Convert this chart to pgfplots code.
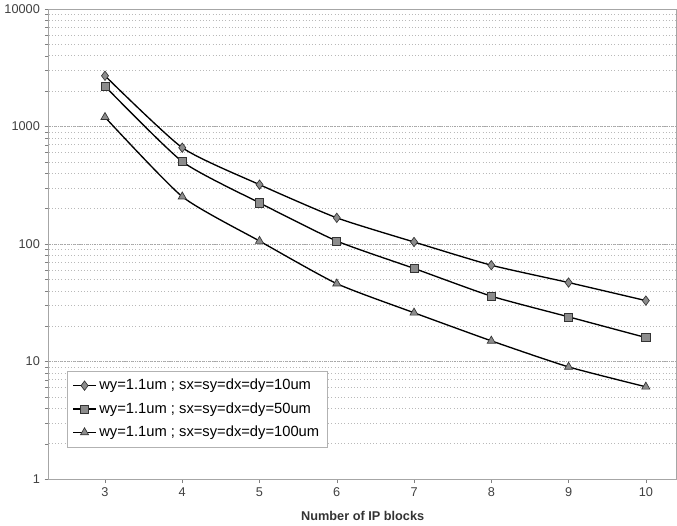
\documentclass[border=0pt]{standalone}
\usepackage{pgfplots}
\pgfplotsset{compat=1.18}
\usepackage{fontspec}
\setmainfont{Liberation Sans}

\begin{document}
\begin{tikzpicture}
\begin{axis}[
  ymode=log,
  scale only axis,
  width=469pt, height=351pt,
  xmin=2.27, xmax=10.4,
  ymin=1, ymax=10000,
  xtick={3,4,5,6,7,8,9,10},
  ytick={1,10,100,1000,10000},
  yticklabels={1,10,100,1000,10000},
  /pgf/number format/assume math mode=true,
  tick label style={font=\fontsize{9.5}{11}\selectfont, text=black!75},
  xlabel={\bfseries Number of IP blocks},
  xlabel style={font=\fontsize{9.5}{11}\selectfont, text=black!80, yshift=-4pt},
  ymajorgrids, yminorgrids,
  major grid style={gray!70, densely dotted},
  minor grid style={gray!55, dotted},
  major tick length=3pt,
  tick align=outside,
  xtick pos=bottom, ytick pos=left,
  axis line style={gray!70},
  legend style={at={(rel axis cs:0.029,0.068)}, anchor=south west,
    draw=gray!60, fill=white, font=\fontsize{11}{13}\selectfont,
    row sep=4pt, inner xsep=4pt, inner ysep=4pt},
  legend cell align=left,
]
\addplot[black, line width=1pt, smooth, tension=0.35, mark=diamond*, mark size=3.5pt,
  mark options={fill=black!45, draw=black!80, line width=0.5pt}] coordinates {
  (3,2700) (4,660) (5,320) (6,167) (7,104) (8,66) (9,47) (10,33)};
\addlegendentry{wy=1.1um ; sx=sy=dx=dy=10um}
\addplot[black, line width=1pt, smooth, tension=0.35, mark=square*, mark size=3pt,
  mark options={fill=black!45, draw=black!80, line width=0.5pt}] coordinates {
  (3,2200) (4,503) (5,224) (6,106) (7,62) (8,36) (9,24) (10,16)};
\addlegendentry{wy=1.1um ; sx=sy=dx=dy=50um}
\addplot[black, line width=1pt, smooth, tension=0.35, mark=triangle*, mark size=3.5pt,
  mark options={fill=black!45, draw=black!80, line width=0.5pt}] coordinates {
  (3,1200) (4,253) (5,106) (6,46) (7,26) (8,15) (9,9) (10,6.1)};
\addlegendentry{wy=1.1um ; sx=sy=dx=dy=100um}
\end{axis}
\end{tikzpicture}
\end{document}
